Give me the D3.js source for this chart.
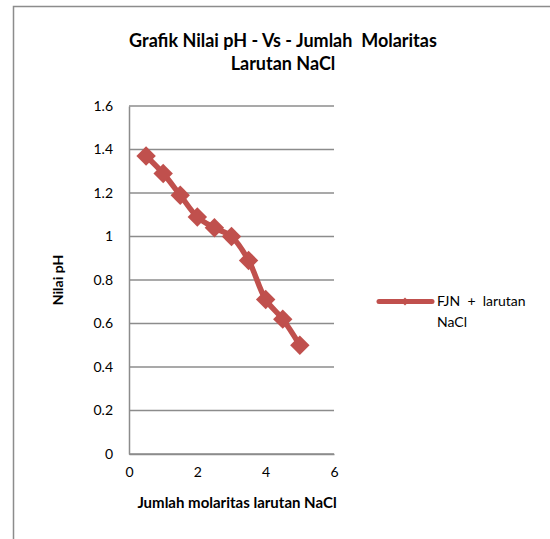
<!DOCTYPE html>
<html>
<head>
<meta charset="utf-8">
<script src="https://cdn.jsdelivr.net/npm/d3@7"></script>
<style>
  body { margin: 0; background: #fff; }
  text { font-family: Lato, "Open Sans", sans-serif; fill: #000; }
</style>
</head>
<body>
<div id="chart-area"></div>
<script>
/* Data */
var molaritas = [0.5, 1, 1.5, 2, 2.5, 3, 3.5, 4, 4.5, 5];
var nilaiPH = [1.37, 1.29, 1.19, 1.09, 1.04, 1.00, 0.89, 0.71, 0.62, 0.50];
var xTicks = [0, 2, 4, 6];
var yTicks = [0, 0.2, 0.4, 0.6, 0.8, 1, 1.2, 1.4, 1.6];
var seriesName = ["FJN  +  larutan", "NaCl"];

var W = 550, H = 539;
var margin = { top: 106, left: 129 };
var width = 334 - 129;
var height = 454 - 106;

var svg = d3.select("#chart-area").append("svg")
  .attr("width", W)
  .attr("height", H);

// outer chart border (only top and left visible)
svg.append("rect")
  .attr("x", 13.5).attr("y", 6.5)
  .attr("width", 600).attr("height", 600)
  .attr("fill", "none")
  .attr("stroke", "#8c8c8c")
  .attr("stroke-width", 1.5);

var g = svg.append("g")
  .attr("transform", "translate(" + margin.left + "," + margin.top + ")");

var x = d3.scaleLinear().domain([0, 6]).range([0, width]);
var y = d3.scaleLinear().domain([0, 1.6]).range([height, 0]);

// gridlines
g.selectAll(".grid").data(yTicks).enter()
  .append("line")
  .attr("x1", 0).attr("x2", width)
  .attr("y1", function(d){ return y(d); })
  .attr("y2", function(d){ return y(d); })
  .attr("stroke", "#8c8c8c")
  .attr("stroke-width", 1.5);

// axes
var fmt = function(d){ return String(+d.toFixed(1)); };
var yAxis = g.append("g")
  .call(d3.axisLeft(y).tickValues(yTicks).tickSize(0).tickPadding(16).tickFormat(fmt));
var xAxis = g.append("g")
  .attr("transform", "translate(0," + height + ")")
  .call(d3.axisBottom(x).tickValues(xTicks).tickSize(0).tickPadding(13).tickFormat(fmt));

[xAxis, yAxis].forEach(function(a){
  a.select(".domain").attr("stroke", "#8c8c8c").attr("stroke-width", 1.5);
  a.selectAll("text").attr("font-size", "14px").style("font-family", "Lato, sans-serif");
});

// line
var line = d3.line()
  .x(function(d, i){ return x(molaritas[i]); })
  .y(function(d){ return y(d); })
  .curve(d3.curveCatmullRom.alpha(0.5));

g.append("path")
  .datum(nilaiPH)
  .attr("d", line)
  .attr("fill", "none")
  .attr("stroke", "#c0504d")
  .attr("stroke-width", 5.5)
  .attr("stroke-linejoin", "round");

// diamond markers
g.selectAll(".marker").data(nilaiPH).enter()
  .append("path")
  .attr("d", d3.symbol().type(d3.symbolDiamond2).size(240))
  .attr("transform", function(d, i){ return "translate(" + x(molaritas[i]) + "," + y(d) + ")"; })
  .attr("fill", "#c0504d");

// title
svg.append("text")
  .attr("text-anchor", "middle")
  .attr("x", 283).attr("y", 47)
  .attr("font-size", "18px").attr("font-weight", "bold")
  .style("white-space", "pre")
  .text("Grafik Nilai pH - Vs - Jumlah  Molaritas");
svg.append("text")
  .attr("text-anchor", "middle")
  .attr("x", 283).attr("y", 70)
  .attr("font-size", "18px").attr("font-weight", "bold")
  .text("Larutan NaCl");

// axis labels
svg.append("text")
  .attr("text-anchor", "middle")
  .attr("x", 237).attr("y", 508)
  .attr("font-size", "15px").attr("font-weight", "bold")
  .text("Jumlah molaritas larutan NaCl");

svg.append("text")
  .attr("text-anchor", "middle")
  .attr("transform", "translate(63," + (margin.top + height / 2) + ") rotate(-90)")
  .attr("font-size", "14px").attr("font-weight", "bold")
  .text("Nilai pH");

// legend
svg.append("line")
  .attr("x1", 379).attr("x2", 432)
  .attr("y1", 301.5).attr("y2", 301.5)
  .attr("stroke", "#c0504d")
  .attr("stroke-width", 5)
  .attr("stroke-linecap", "round");
svg.append("path")
  .attr("d", d3.symbol().type(d3.symbolDiamond2).size(40))
  .attr("transform", "translate(405,301.5)")
  .attr("fill", "#c0504d");
svg.selectAll(".leg").data(seriesName).enter()
  .append("text")
  .attr("x", 437)
  .attr("y", function(d, i){ return 306 + i * 21; })
  .attr("font-size", "14px")
  .style("white-space", "pre")
  .text(function(d){ return d; });
</script>
</body>
</html>
